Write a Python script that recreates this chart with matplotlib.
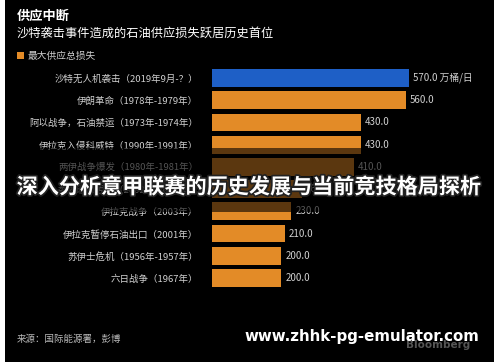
import matplotlib.pyplot as plt
import matplotlib.patheffects as pe
from matplotlib.patches import Rectangle

plt.rcParams['font.family'] = ['Noto Sans CJK SC', 'DejaVu Sans']

# data
events = ['沙特无人机袭击（2019年9月-？）', '伊朗革命（1978年-1979年）',
          '阿以战争，石油禁运（1973年-1974年）', '伊拉克入侵科威特（1990年-1991年）',
          '两伊战争爆发（1980年-1981年）', '委内瑞拉罢工（2002年-2003年）',
          '伊拉克战争（2003年）', '伊拉克暂停石油出口（2001年）',
          '苏伊士危机（1956年-1957年）', '六日战争（1967年）']
losses = [570.0, 560.0, 430.0, 430.0, 410.0, 260.0, 230.0, 210.0, 200.0, 200.0]
value_labels = ['570.0 万桶/日', '560.0', '430.0', '430.0', '410.0',
                '260.0', '230.0', '210.0', '200.0', '200.0']

W, H = 500, 362
fig = plt.figure(figsize=(W / 100, H / 100), dpi=100, facecolor='white')

def fx(px):
    return px / W

def fy(py):
    return 1 - py / H

# black panel, behind everything
fig.patches.append(Rectangle((fx(5), 0), fx(489), 1, transform=fig.transFigure,
                             facecolor='black', edgecolor='none', zorder=-5))

ax = fig.add_axes([fx(212), fy(289.1), fx(197), 222.2 / H])
ax.set_facecolor('none')
ypos = list(range(len(events)))
colors = ['#1e5fc6'] + ['#e38b27'] * (len(events) - 1)
ax.barh(ypos, losses, height=0.8, color=colors)
ax.set_xlim(0, 570)
ax.set_ylim(len(events) - 0.5, -0.5)
ax.set_yticks(ypos)
ax.set_yticklabels(events, fontsize=6.8, color='#d0d0d0')
ax.tick_params(axis='y', length=0, pad=10)
ax.set_xticks([])
for s in ax.spines.values():
    s.set_visible(False)
for y, v, t in zip(ypos, losses, value_labels):
    ax.text(v + 12, y, t, va='center', ha='left', fontsize=7, color='#d0d0d0')

# titles
fig.text(fx(17), fy(16), '供应中断', fontsize=9.5, fontweight='bold', color='white', va='center')
fig.text(fx(17), fy(33), '沙特袭击事件造成的石油供应损失跃居历史首位', fontsize=8.8,
         color='white', va='center')
fig.patches.append(Rectangle((fx(17), fy(59)), fx(7), 7 / H, transform=fig.transFigure,
                             facecolor='#e38b27', edgecolor='none'))
fig.text(fx(28), fy(55.5), '最大供应总损失', fontsize=7, color='#d0d0d0', va='center')

fig.text(fx(17), fy(339), '来源：国际能源署，彭博', fontsize=6.8, color='#bbbbbb', va='center')
fig.text(fx(470), fy(345), 'Bloomberg', fontsize=7.5, fontweight='bold', color='#555555',
         ha='right', va='center', family='DejaVu Sans')

# dark band behind overlay text
fig.patches.append(Rectangle((fx(5), fy(212)), fx(489), 64 / H, transform=fig.transFigure,
                             facecolor='black', alpha=0.6, edgecolor='none', zorder=5))

fig.text(fx(249), fy(187), '深入分析意甲联赛的历史发展与当前竞技格局探析', fontsize=15.2,
         fontweight='bold', color='white', ha='center', va='center', zorder=10,
         path_effects=[pe.withStroke(linewidth=2.5, foreground='#222222')])
fig.text(fx(362), fy(337), 'www.zhhk-pg-emulator.com', fontsize=10.8, fontweight='bold',
         color='white', ha='center', va='center', family='DejaVu Sans', zorder=10)

fig.savefig('out.png', dpi=100, facecolor=fig.get_facecolor())
